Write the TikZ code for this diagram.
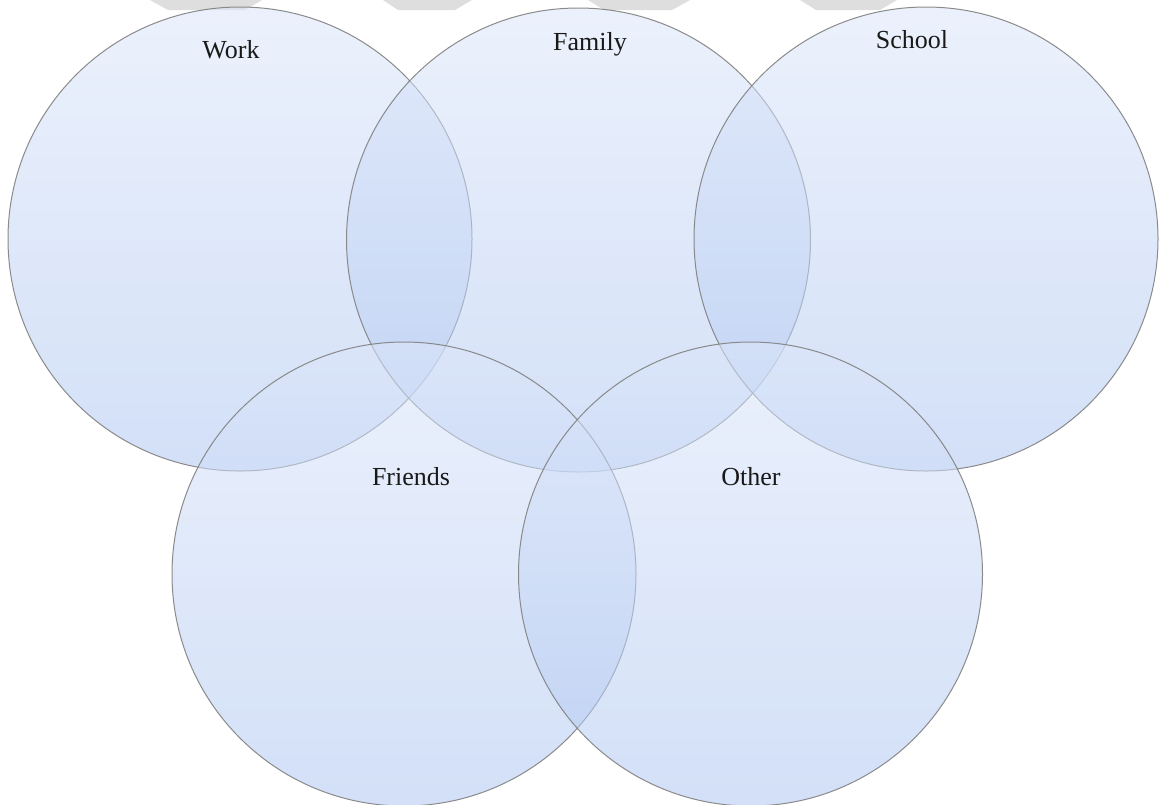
\documentclass[tikz,border=0pt]{standalone}
\usepackage{fontspec}
\setmainfont{Liberation Serif}
\definecolor{ctop}{HTML}{DCE6FA}
\definecolor{cbot}{HTML}{AFC7F2}
\definecolor{cedge}{HTML}{808080}
\definecolor{wm}{HTML}{DEDEDE}
\tikzset{
  ring/.style={circle, minimum size=464pt, inner sep=0pt, draw=cedge, line width=1pt,
    top color=ctop, bottom color=cbot, fill opacity=0.55, draw opacity=0.9},
  lbl/.style={font=\fontsize{26}{31}\selectfont, text=black!90, inner sep=0pt}
}
\begin{document}
\begin{tikzpicture}[x=1pt,y=-1pt]
\useasboundingbox (0,0) rectangle (1165,804);
\fill[white] (0,0) rectangle (1165,804);
% faint marks at the top edge
\fill[wm] (150,0) -- (262,0) -- (245,10) -- (168,10) -- cycle;
\fill[wm] (383,0) -- (472,0) -- (455,10) -- (398,10) -- cycle;
\fill[wm] (588,0) -- (690,0) -- (672,10) -- (604,10) -- cycle;
\fill[wm] (800,0) -- (897,0) -- (880,10) -- (816,10) -- cycle;
% circles
\node[ring] (work) at (240,239) {};
\node[ring] (family) at (578.5,240) {};
\node[ring] (school) at (926,239) {};
\node[ring] (friends) at (404,574) {};
\node[ring] (other) at (750.5,574) {};
% labels
\node[lbl] (tw) at (231,50) {Work};
\node[lbl] (tf) at (590,44) {Family};
\node[lbl] (ts) at (912,40) {School};
\node[lbl] (tfr) at (411,477) {Friends};
\node[lbl] (to) at (751,477) {Other};
\end{tikzpicture}
\end{document}
